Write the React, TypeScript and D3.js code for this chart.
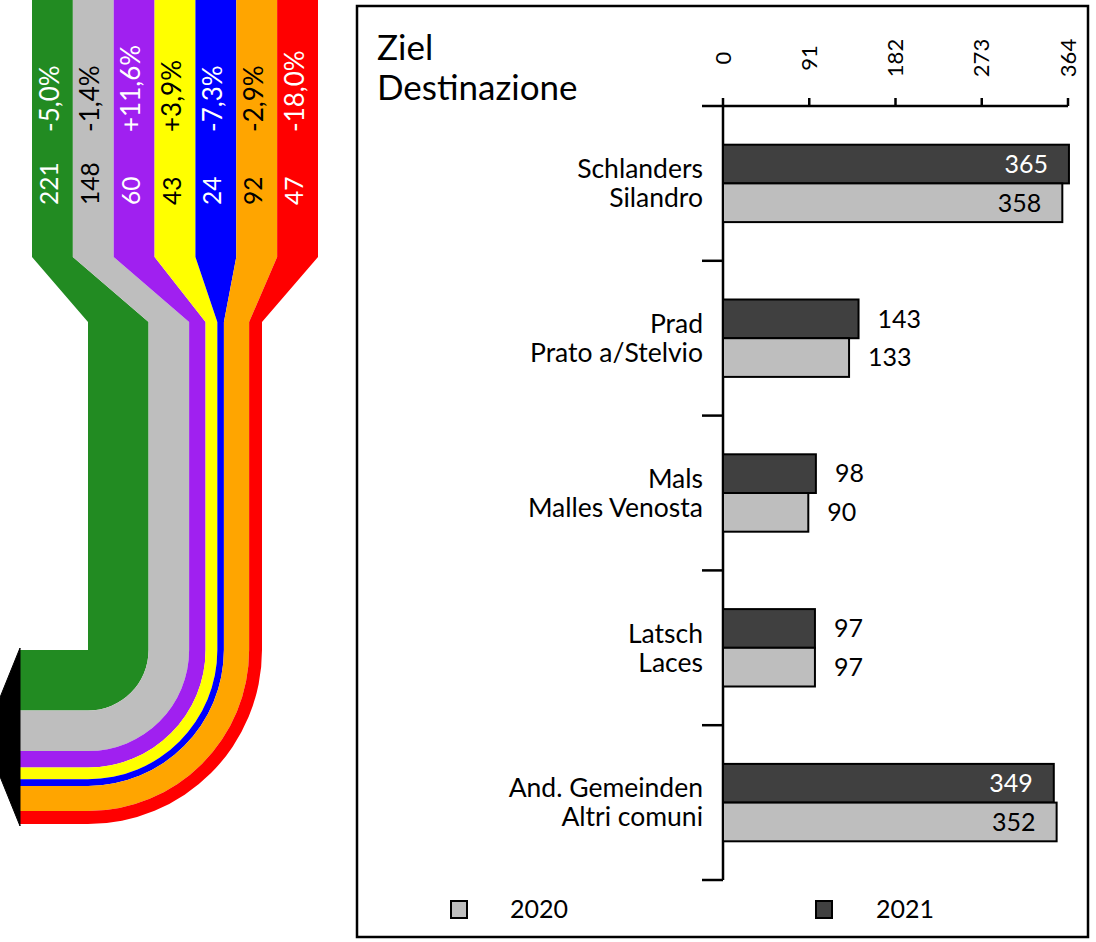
import React from "react";
import * as d3 from "d3";

const flowNames = ["g", "gr", "p", "y", "b", "o", "r"];
const flowValues = [221, 148, 60, 43, 24, 92, 47];
const flowChanges = ["-5,0%", "-1,4%", "+11,6%", "+3,9%", "-7,3%", "-2,9%", "-18,0%"];
const flowColors = ["#228B22", "#BEBEBE", "#A020F0", "#FFFF00", "#0000FF", "#FFA500", "#FF0000"];
const flowTextColors = ["#fff", "#000", "#fff", "#000", "#fff", "#000", "#fff"];

const categoriesDe = ["Schlanders", "Prad", "Mals", "Latsch", "And. Gemeinden"];
const categoriesIt = ["Silandro", "Prato a/Stelvio", "Malles Venosta", "Laces", "Altri comuni"];
const values2021 = [365, 143, 98, 97, 349];
const values2020 = [358, 133, 90, 97, 352];
const tickValues = [0, 91, 182, 273, 364];
const seriesNames = ["2021", "2020"];
const seriesColors = ["#404040", "#BEBEBE"];

const FONT = "Lato, 'Open Sans', sans-serif";

export default function App() {
  // ---- flow diagram ----
  const topX = d3.scaleBand<string>().domain(flowNames).range([32, 318]);
  const total = d3.sum(flowValues);
  const wScale = d3.scaleLinear().domain([0, total]).range([0, 174]);
  const cum = [0];
  flowValues.forEach((v, i) => cum.push(cum[i] + v));
  const cx = 88, cy = 650, tipX = 20;
  const yTopEnd = 257, yTaper = 322;

  const flowPaths = flowNames.map((n, i) => {
    const xl0 = topX(n)!;
    const xr0 = xl0 + topX.bandwidth();
    const ri = wScale(cum[i]);
    const ro = wScale(cum[i + 1]);
    const p = d3.path();
    p.moveTo(xl0, 0);
    p.lineTo(xr0, 0);
    p.lineTo(xr0, yTopEnd);
    p.lineTo(cx + ro, yTaper);
    p.lineTo(cx + ro, cy);
    p.arc(cx, cy, ro, 0, Math.PI / 2, false);
    p.lineTo(tipX, cy + ro);
    p.lineTo(tipX, cy + ri);
    p.lineTo(cx, cy + ri);
    if (ri > 0) p.arc(cx, cy, ri, Math.PI / 2, 0, true);
    p.lineTo(cx + ri, yTaper);
    p.lineTo(xl0, yTopEnd);
    p.closePath();
    return p.toString();
  });
  const arrowTop = cy - 2;
  const arrowBot = cy + wScale(total) + 2;
  const arrow = `M${tipX},${arrowTop}L${tipX - 36},${(arrowTop + arrowBot) / 2}L${tipX},${arrowBot}Z`;

  // ---- bar chart ----
  const x = d3.scaleLinear().domain([0, 364]).range([723, 1068]);
  const y = d3.scaleBand<number>().domain(d3.range(categoriesDe.length)).range([106, 880]);
  const yy = d3.scaleBand<string>().domain(seriesNames).range([0, y.bandwidth()]).paddingOuter(1);
  const series = [values2021, values2020];
  const fs = 25;

  return (
    <svg width={1096} height={942} style={{ position: "absolute", left: 0, top: 0 }} fontFamily={FONT}>
      <rect width={1096} height={942} fill="#fff" />
      {flowPaths.map((d, i) => (
        <path key={i} d={d} fill={flowColors[i]} />
      ))}
      <path d={arrow} fill="#000" stroke="#000" strokeWidth={1} strokeLinejoin="round" />
      {flowNames.map((n, i) => {
        const c = topX(n)! + topX.bandwidth() / 2 - 3;
        return (
          <g key={n} fill={flowTextColors[i]}>
            <text transform={`translate(${c},205) rotate(-90)`} dy="0.35em" fontSize={24.5}>{flowValues[i]}</text>
            <text transform={`translate(${c},132) rotate(-90)`} dy="0.35em" fontSize={26}>{flowChanges[i]}</text>
          </g>
        );
      })}

      {/* frame */}
      <rect x={357} y={6} width={731} height={931} fill="none" stroke="#000" strokeWidth={2.5} />

      <text x={377} y={60} fontSize={35}>Ziel</text>
      <text x={377} y={100} fontSize={35}>Destinazione</text>

      {/* top axis */}
      <line x1={702} x2={x(364)} y1={106} y2={106} stroke="#000" strokeWidth={2.5} />
      {tickValues.map((t) => (
        <g key={t}>
          <line x1={x(t)} x2={x(t)} y1={106} y2={98} stroke="#000" strokeWidth={2.5} />
          <text transform={`translate(${x(t)},58) rotate(-90)`} textAnchor="middle" dy="0.35em" fontSize={22}>
            {t}
          </text>
        </g>
      ))}
      {/* left axis */}
      <line x1={723} x2={723} y1={106} y2={880} stroke="#000" strokeWidth={2.5} />
      {d3.range(1, categoriesDe.length + 1).map((i) => {
        const yy0 = 106 + i * y.step();
        return <line key={i} x1={702} x2={723} y1={yy0} y2={yy0} stroke="#000" strokeWidth={2.5} />;
      })}

      {/* bars */}
      {categoriesDe.map((cat, ci) => {
        const y0 = y(ci)!;
        const mid = y0 + y.bandwidth() / 2;
        return (
          <g key={cat}>
            <text x={703} y={mid - 14.5} dy="0.35em" textAnchor="end" fontSize={26.5}>{cat}</text>
            <text x={703} y={mid + 14.5} dy="0.35em" textAnchor="end" fontSize={26.5}>{categoriesIt[ci]}</text>
            {seriesNames.map((s, si) => {
              const v = series[si][ci];
              const by = y0 + yy(s)!;
              const inside = v > 300;
              return (
                <g key={s}>
                  <rect x={x(0)} y={by} width={x(v) - x(0)} height={yy.bandwidth()} fill={seriesColors[si]} stroke="#000" strokeWidth={2} />
                  <text
                    x={inside ? x(v) - 21 : x(v) + 19}
                    y={by + yy.bandwidth() / 2}
                    dy="0.35em"
                    textAnchor={inside ? "end" : "start"}
                    fill={inside && si === 0 ? "#fff" : "#000"}
                    fontSize={fs}
                  >
                    {v}
                  </text>
                </g>
              );
            })}
          </g>
        );
      })}

      {/* legend */}
      {[{ s: "2020", c: seriesColors[1], x: 451, tx: 510 }, { s: "2021", c: seriesColors[0], x: 816, tx: 876 }].map((l) => (
        <g key={l.s}>
          <rect x={l.x} y={901} width={16} height={17} fill={l.c} stroke="#000" strokeWidth={2} />
          <text x={l.tx} y={909.5} dy="0.35em" fontSize={fs}>{l.s}</text>
        </g>
      ))}
    </svg>
  );
}
